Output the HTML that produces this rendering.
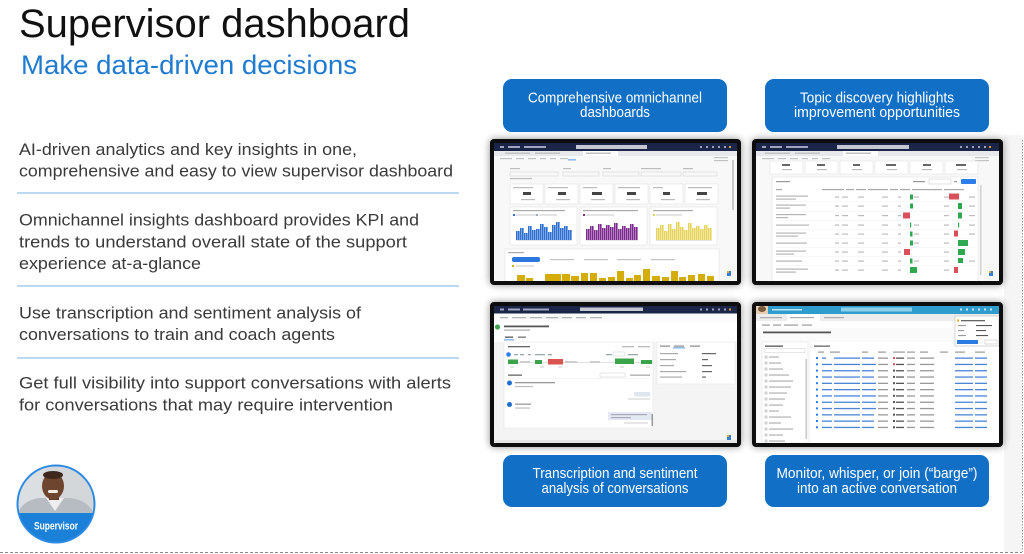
<!DOCTYPE html>
<html><head><meta charset="utf-8">
<style>
html,body{margin:0;padding:0;background:#fff;width:1024px;height:554px;overflow:hidden}
svg{display:block}
text{font-family:"Liberation Sans",Arial,sans-serif}
</style></head><body>
<svg width="1024" height="554" viewBox="0 0 1024 554" xmlns="http://www.w3.org/2000/svg">
<defs>
<filter id="sh" x="-10%" y="-15%" width="120%" height="130%">
<feGaussianBlur in="SourceAlpha" stdDeviation="4"/>
<feComponentTransfer><feFuncA type="linear" slope="0.45"/></feComponentTransfer>
<feMerge><feMergeNode/><feMergeNode in="SourceGraphic"/></feMerge>
</filter>
<pattern id="pb" width="2" height="10" patternUnits="userSpaceOnUse"><rect width="1.4" height="10" fill="#2f6fd0"/><rect x="1.4" width="0.6" height="10" fill="#93b6ec"/></pattern>
<pattern id="pp" width="2" height="10" patternUnits="userSpaceOnUse"><rect width="1.4" height="10" fill="#7d2a8e"/><rect x="1.4" width="0.6" height="10" fill="#c49bd0"/></pattern>
<pattern id="py" width="2" height="10" patternUnits="userSpaceOnUse"><rect width="1.4" height="10" fill="#e6d45a"/><rect x="1.4" width="0.6" height="10" fill="#f5eebb"/></pattern>
<clipPath id="cc"><circle cx="56" cy="504" r="38"/></clipPath>
<clipPath id="sTL"><rect x="494" y="143" width="243" height="138"/></clipPath>
<clipPath id="sTR"><rect x="756" y="143" width="243" height="138"/></clipPath>
<clipPath id="sBL"><rect x="494" y="306" width="243" height="137"/></clipPath>
<clipPath id="sBR"><rect x="756" y="306" width="243" height="137"/></clipPath>
</defs>

<!-- right strip and borders -->
<rect x="1004" y="135" width="18" height="417" fill="#f5f5f5"/>
<line x1="1022.5" y1="140" x2="1022.5" y2="552" stroke="#9a9a9a" stroke-width="1" stroke-dasharray="1.5 1.5"/>
<line x1="0" y1="552.5" x2="1022" y2="552.5" stroke="#8a8a8a" stroke-width="1" stroke-dasharray="3 2"/>

<!-- Title -->
<text x="19" y="37" font-size="39.5" fill="#111" textLength="391" lengthAdjust="spacingAndGlyphs">Supervisor dashboard</text>
<text x="21" y="74" font-size="27" fill="#1e7bd0" textLength="336" lengthAdjust="spacingAndGlyphs">Make data-driven decisions</text>

<!-- Bullets -->
<g font-size="17" fill="#3a3a3a">
<text x="19" y="155" textLength="338" lengthAdjust="spacingAndGlyphs">AI-driven analytics and key insights in one,</text>
<text x="19" y="176.5" textLength="434" lengthAdjust="spacingAndGlyphs">comprehensive and easy to view supervisor dashboard</text>
<text x="19" y="225.5" textLength="400" lengthAdjust="spacingAndGlyphs">Omnichannel insights dashboard provides KPI and</text>
<text x="19" y="247.5" textLength="388" lengthAdjust="spacingAndGlyphs">trends to understand overall state of the support</text>
<text x="19" y="269" textLength="182" lengthAdjust="spacingAndGlyphs">experience at-a-glance</text>
<text x="19" y="318.5" textLength="342" lengthAdjust="spacingAndGlyphs">Use transcription and sentiment analysis of</text>
<text x="19" y="340" textLength="316" lengthAdjust="spacingAndGlyphs">conversations to train and coach agents</text>
<text x="19" y="388.5" textLength="432" lengthAdjust="spacingAndGlyphs">Get full visibility into support conversations with alerts</text>
<text x="19" y="410.5" textLength="374" lengthAdjust="spacingAndGlyphs">for conversations that may require intervention</text>
</g>
<g stroke="#a7cbee" stroke-width="1.5">
<line x1="17" y1="193" x2="459" y2="193"/>
<line x1="17" y1="286" x2="459" y2="286"/>
<line x1="17" y1="358" x2="459" y2="358"/>
</g>

<!-- Avatar -->
<g clip-path="url(#cc)">
<rect x="15" y="463" width="82" height="82" fill="#d4d7da"/>
<rect x="15" y="463" width="30" height="50" fill="#dcdfe2"/>
<path d="M18 514 Q22 500 40 498 L70 498 Q88 500 94 514 Z" fill="#b7bcc2"/>
<path d="M46 498 L55 511 L64 498 Z" fill="#eceeef"/>
<rect x="49" y="494" width="10" height="6" fill="#5c3a28"/>
<ellipse cx="53" cy="486" rx="11" ry="13.5" fill="#6e4630"/>
<ellipse cx="53" cy="475" rx="10" ry="4" fill="#3e281d"/>
<rect x="48" y="490" width="10" height="3" rx="1.5" fill="#f2ece6"/>
<rect x="15" y="513" width="82" height="35" fill="#1a80d8"/>
</g>
<circle cx="56" cy="504" r="38.5" fill="none" stroke="#2d8ae2" stroke-width="2"/>
<text x="56" y="529.5" font-size="11" font-weight="bold" fill="#fff" text-anchor="middle" textLength="44" lengthAdjust="spacingAndGlyphs">Supervisor</text>

<!-- Blue label buttons -->
<g fill="#116fc5">
<rect x="503" y="79" width="224" height="53" rx="9"/>
<rect x="765" y="79" width="224" height="53" rx="9"/>
<rect x="503" y="455" width="224" height="52" rx="9"/>
<rect x="765" y="455" width="224" height="52" rx="9"/>
</g>
<g font-size="14.5" fill="#fff" text-anchor="middle">
<text x="615" y="102.5" textLength="174" lengthAdjust="spacingAndGlyphs">Comprehensive omnichannel</text>
<text x="615" y="117" textLength="70" lengthAdjust="spacingAndGlyphs">dashboards</text>
<text x="877" y="102.5" textLength="154" lengthAdjust="spacingAndGlyphs">Topic discovery highlights</text>
<text x="877" y="117" textLength="166" lengthAdjust="spacingAndGlyphs">improvement opportunities</text>
<text x="615" y="478" textLength="165" lengthAdjust="spacingAndGlyphs">Transcription and sentiment</text>
<text x="615" y="493" textLength="147" lengthAdjust="spacingAndGlyphs">analysis of conversations</text>
<text x="877" y="478" textLength="201" lengthAdjust="spacingAndGlyphs">Monitor, whisper, or join (“barge”)</text>
<text x="877" y="493" textLength="160" lengthAdjust="spacingAndGlyphs">into an active conversation</text>
</g>

<!-- Frames -->
<g filter="url(#sh)" fill="#0d0d0d">
<rect x="490" y="139" width="251" height="146" rx="4"/>
<rect x="752" y="139" width="251" height="146" rx="4"/>
<rect x="490" y="302" width="251" height="145" rx="4"/>
<rect x="752" y="302" width="251" height="145" rx="4"/>
</g>

<!-- ===== TL screen ===== -->
<g clip-path="url(#sTL)">
<rect x="494" y="143" width="243" height="138" fill="#f8f8f8"/>
<rect x="494" y="143" width="243" height="8" fill="#1b2547"/>
<rect x="576" y="145" width="71" height="4" fill="#c5c8d2"/>
<g fill="#9ea5bd"><rect x="500" y="146" width="4" height="2"/><rect x="508" y="146" width="12" height="2"/><rect x="524" y="146" width="22" height="2"/><rect x="700" y="146" width="2" height="2"/><rect x="706" y="146" width="2" height="2"/><rect x="712" y="146" width="2" height="2"/><rect x="718" y="146" width="2" height="2"/><rect x="724" y="146" width="2" height="2"/></g>
<rect x="729" y="146" width="2" height="2" fill="#e5a12a"/>
<rect x="494" y="151" width="243" height="5" fill="#e6e8ec"/>
<rect x="583" y="151" width="35" height="5" fill="#fff"/>
<g fill="#c2c2c2"><rect x="505" y="152.5" width="25" height="1.5"/><rect x="535" y="152.5" width="25" height="1.5"/><rect x="586" y="152.5" width="25" height="1.5"/><rect x="500" y="158" width="12" height="1.2"/><rect x="516" y="158" width="8" height="1.2"/><rect x="528" y="158" width="8" height="1.2"/><rect x="540" y="158" width="6" height="1.2"/><rect x="550" y="158" width="6" height="1.2"/><rect x="560" y="158" width="8" height="1.2"/><rect x="714" y="157" width="14" height="1.2"/><rect x="714" y="160" width="14" height="1.2"/></g>
<rect x="568" y="159.5" width="8" height="0.8" fill="#2b7de9"/>
<!-- filters -->
<g fill="#bdbdbd"><rect x="510" y="168" width="10" height="1.2"/><rect x="563" y="168" width="8" height="1.2"/><rect x="603" y="168" width="8" height="1.2"/><rect x="641" y="168" width="20" height="1.2"/><rect x="683" y="168" width="10" height="1.2"/><rect x="510" y="178" width="22" height="1.2"/></g>
<g fill="none" stroke="#d5d5d5" stroke-width="0.6"><rect x="510" y="172" width="48" height="4"/><rect x="563" y="172" width="36" height="4"/><rect x="603" y="172" width="36" height="4"/><rect x="641" y="172" width="40" height="4"/><rect x="683" y="172" width="34" height="4"/></g>
<!-- KPI cards -->
<g fill="#fff" stroke="#e1e1e1" stroke-width="0.6">
<rect x="510" y="184" width="33" height="20"/><rect x="545" y="184" width="33" height="20"/><rect x="580" y="184" width="33" height="20"/><rect x="615" y="184" width="33" height="20"/><rect x="650" y="184" width="33" height="20"/><rect x="685" y="184" width="33" height="20"/>
</g>
<g fill="#bbb"><rect x="513" y="187" width="20" height="1.2"/><rect x="548" y="187" width="20" height="1.2"/><rect x="583" y="187" width="14" height="1.2"/><rect x="618" y="187" width="22" height="1.2"/><rect x="653" y="187" width="10" height="1.2"/><rect x="688" y="187" width="24" height="1.2"/>
<rect x="521" y="199" width="14" height="1.2"/><rect x="556" y="199" width="14" height="1.2"/><rect x="591" y="199" width="14" height="1.2"/><rect x="626" y="199" width="14" height="1.2"/><rect x="661" y="199" width="14" height="1.2"/><rect x="696" y="199" width="14" height="1.2"/></g>
<g fill="#444"><rect x="523" y="192" width="8" height="3"/><rect x="558" y="192" width="8" height="3"/><rect x="592" y="192" width="10" height="3"/><rect x="627" y="192" width="9" height="3"/><rect x="663" y="192" width="7" height="3"/><rect x="697" y="192" width="10" height="3"/></g>
<!-- chart cards -->
<g fill="#fff" stroke="#e1e1e1" stroke-width="0.6"><rect x="510" y="207" width="67" height="38"/><rect x="580" y="207" width="67" height="38"/><rect x="650" y="207" width="67" height="38"/></g>
<g fill="#aaa"><rect x="513" y="210" width="52" height="1.2"/><rect x="583" y="210" width="55" height="1.2"/><rect x="653" y="210" width="40" height="1.2"/></g>
<g fill="#c8c8c8"><rect x="516" y="214.5" width="20" height="1"/><rect x="539" y="214.5" width="18" height="1"/><rect x="586" y="214.5" width="28" height="1"/><rect x="656" y="214.5" width="26" height="1"/></g>
<rect x="513" y="214" width="2" height="2" fill="#2f6fd0"/><rect x="536" y="214" width="2" height="2" fill="#9ab"/><rect x="583" y="214" width="2" height="2" fill="#7d2a8e"/><rect x="653" y="214" width="2" height="2" fill="#e6d45a"/>
<path d="M516 240 V231 H520 V228 H524 V233 H528 V226 H532 V230 H536 V229 H540 V224 H544 V227 H548 V232 H552 V225 H556 V222 H560 V228 H564 V226 H568 V230 H572 V240 Z" fill="url(#pb)"/>
<path d="M586 240 V229 H590 V226 H594 V230 H598 V224 H602 V228 H606 V225 H610 V227 H614 V223 H618 V229 H622 V226 H626 V228 H630 V224 H634 V227 H638 V240 Z" fill="url(#pp)"/>
<path d="M656 240 V228 H660 V225 H664 V231 H668 V224 H672 V229 H676 V222 H680 V227 H684 V230 H688 V223 H692 V228 H696 V226 H700 V229 H704 V225 H708 V228 H712 V240 Z" fill="url(#py)"/>
<g fill="#d0d0d0"><rect x="516" y="240" width="56" height="0.6"/><rect x="586" y="240" width="52" height="0.6"/><rect x="656" y="240" width="56" height="0.6"/></g>
<!-- bottom card -->
<rect x="505" y="249" width="214" height="34" fill="#fff" stroke="#e1e1e1" stroke-width="0.6"/>
<rect x="508" y="252" width="16" height="1.2" fill="#aaa"/>
<rect x="512" y="257" width="28" height="5" rx="2" fill="#2c76e0"/>
<g fill="#c4c4c4"><rect x="550" y="259" width="24" height="1.2"/><rect x="584" y="259" width="24" height="1.2"/><rect x="617" y="259" width="24" height="1.2"/><rect x="651" y="259" width="24" height="1.2"/></g>
<rect x="512" y="265" width="2" height="2" fill="#d4ad0a"/><rect x="516" y="265.5" width="18" height="1" fill="#c8c8c8"/>
<g fill="#d4ad0a">
<rect x="517" y="275" width="8" height="8"/><rect x="526" y="278" width="7" height="5"/><rect x="545" y="274" width="8" height="9"/><rect x="553" y="274" width="8" height="9"/><rect x="562" y="274" width="8" height="9"/><rect x="571" y="276" width="8" height="7"/><rect x="581" y="273" width="7" height="10"/><rect x="590" y="273" width="7" height="10"/><rect x="599" y="278" width="7" height="5"/><rect x="608" y="277" width="7" height="6"/><rect x="617" y="271" width="7" height="12"/><rect x="626" y="278" width="7" height="5"/><rect x="634" y="275" width="7" height="8"/><rect x="643" y="269" width="7" height="14"/><rect x="652" y="276" width="8" height="7"/><rect x="662" y="277" width="7" height="6"/><rect x="671" y="271" width="7" height="12"/><rect x="679" y="277" width="7" height="6"/><rect x="688" y="275" width="7" height="8"/><rect x="698" y="274" width="7" height="9"/><rect x="707" y="276" width="7" height="7"/>
</g>
<rect x="732" y="160" width="2" height="50" fill="#c8c8c8"/>
<rect x="727" y="271" width="4" height="5" fill="#3a7ed8"/><rect x="727" y="271" width="2" height="2" fill="#e8b02a"/>
</g>

<!-- ===== TR screen ===== -->
<g clip-path="url(#sTR)">
<rect x="756" y="143" width="243" height="138" fill="#f8f8f8"/>
<rect x="756" y="143" width="243" height="8" fill="#1b2547"/>
<rect x="837" y="145" width="72" height="4" fill="#c5c8d2"/>
<g fill="#9ea5bd"><rect x="762" y="146" width="4" height="2"/><rect x="770" y="146" width="12" height="2"/><rect x="786" y="146" width="22" height="2"/><rect x="960" y="146" width="2" height="2"/><rect x="966" y="146" width="2" height="2"/><rect x="972" y="146" width="2" height="2"/><rect x="978" y="146" width="2" height="2"/><rect x="984" y="146" width="2" height="2"/></g>
<rect x="989" y="146" width="2" height="2" fill="#e5a12a"/>
<rect x="756" y="151" width="243" height="5" fill="#e6e8ec"/>
<rect x="843" y="151" width="35" height="5" fill="#fff"/>
<g fill="#c2c2c2"><rect x="765" y="152.5" width="25" height="1.5"/><rect x="795" y="152.5" width="25" height="1.5"/><rect x="846" y="152.5" width="25" height="1.5"/><rect x="762" y="158" width="12" height="1.2"/><rect x="778" y="158" width="8" height="1.2"/><rect x="790" y="158" width="8" height="1.2"/><rect x="802" y="158" width="6" height="1.2"/><rect x="812" y="158" width="6" height="1.2"/><rect x="822" y="158" width="8" height="1.2"/><rect x="975" y="157" width="14" height="1.2"/><rect x="975" y="160" width="14" height="1.2"/></g>
<g fill="#fff" stroke="#e3e3e3" stroke-width="0.6"><rect x="770" y="161" width="33" height="13"/><rect x="805" y="161" width="33" height="13"/><rect x="840" y="161" width="33" height="13"/><rect x="875" y="161" width="33" height="13"/><rect x="910" y="161" width="33" height="13"/><rect x="945" y="161" width="33" height="13"/></g>
<g fill="#666"><rect x="782" y="164" width="8" height="2"/><rect x="817" y="164" width="8" height="2"/><rect x="853" y="164" width="7" height="2"/><rect x="886" y="164" width="10" height="2"/><rect x="923" y="164" width="8" height="2"/><rect x="956" y="164" width="10" height="2"/></g>
<g fill="#bbb"><rect x="782" y="169" width="10" height="1.2"/><rect x="817" y="169" width="10" height="1.2"/><rect x="852" y="169" width="10" height="1.2"/><rect x="887" y="169" width="10" height="1.2"/><rect x="922" y="169" width="10" height="1.2"/><rect x="957" y="169" width="10" height="1.2"/></g>
<rect x="772" y="177" width="206" height="105" fill="#fff" stroke="#e2e2e2" stroke-width="0.6"/>
<rect x="776" y="181" width="14" height="1.2" fill="#999"/>
<rect x="913" y="181" width="12" height="1.2" fill="#999"/>
<rect x="929" y="179" width="22" height="5" fill="#fff" stroke="#ccc" stroke-width="0.6"/>
<rect x="954" y="181" width="3" height="1.2" fill="#999"/>
<rect x="961" y="179" width="15" height="5" rx="1" fill="#2b7de9"/>
<g fill="#aaa"><rect x="776" y="189" width="6" height="1.2"/><rect x="822" y="189" width="22" height="1.2"/><rect x="846" y="189" width="8" height="1.2"/><rect x="856" y="189" width="10" height="1.2"/><rect x="868" y="189" width="20" height="1.2"/><rect x="890" y="189" width="8" height="1.2"/><rect x="900" y="189" width="10" height="1.2"/><rect x="912" y="189" width="30" height="1.2"/><rect x="944" y="189" width="20" height="1.2"/></g>
<g fill="#b5b5b5">
<rect x="776" y="195.5" width="32" height="1.2"/><rect x="776" y="198.5" width="20" height="1.2"/>
<rect x="776" y="204.5" width="30" height="1.2"/><rect x="776" y="207.5" width="14" height="1.2"/>
<rect x="776" y="214" width="30" height="1.2"/><rect x="776" y="217" width="12" height="1.2"/>
<rect x="776" y="224.5" width="33" height="1.2"/>
<rect x="776" y="232.5" width="30" height="1.2"/><rect x="776" y="235.5" width="22" height="1.2"/>
<rect x="776" y="242.5" width="31" height="1.2"/>
<rect x="776" y="250.5" width="30" height="1.2"/><rect x="776" y="253.5" width="18" height="1.2"/>
<rect x="776" y="260.5" width="26" height="1.2"/>
<rect x="776" y="268.5" width="32" height="1.2"/><rect x="776" y="271.5" width="20" height="1.2"/>
</g>
<g fill="#bbb">
<rect x="835" y="196.5" width="4" height="1.2"/><rect x="842" y="196.5" width="6" height="1.2"/><rect x="858" y="196.5" width="6" height="1.2"/><rect x="882" y="196.5" width="6" height="1.2"/><rect x="898" y="196.5" width="3" height="1.2"/><rect x="914" y="196.5" width="5" height="1.2"/><rect x="944" y="196.5" width="5" height="1.2"/><rect x="969" y="196.5" width="6" height="1.2"/>
<rect x="835" y="205.5" width="4" height="1.2"/><rect x="842" y="205.5" width="6" height="1.2"/><rect x="858" y="205.5" width="6" height="1.2"/><rect x="882" y="205.5" width="6" height="1.2"/><rect x="898" y="205.5" width="3" height="1.2"/><rect x="944" y="205.5" width="5" height="1.2"/><rect x="969" y="205.5" width="6" height="1.2"/>
<rect x="835" y="215" width="4" height="1.2"/><rect x="842" y="215" width="6" height="1.2"/><rect x="858" y="215" width="6" height="1.2"/><rect x="882" y="215" width="6" height="1.2"/><rect x="898" y="215" width="3" height="1.2"/><rect x="944" y="215" width="5" height="1.2"/><rect x="969" y="215" width="6" height="1.2"/>
<rect x="835" y="224.5" width="4" height="1.2"/><rect x="842" y="224.5" width="6" height="1.2"/><rect x="858" y="224.5" width="6" height="1.2"/><rect x="882" y="224.5" width="6" height="1.2"/><rect x="898" y="224.5" width="3" height="1.2"/><rect x="914" y="224.5" width="5" height="1.2"/><rect x="944" y="224.5" width="5" height="1.2"/><rect x="969" y="224.5" width="6" height="1.2"/>
<rect x="835" y="233.5" width="4" height="1.2"/><rect x="842" y="233.5" width="6" height="1.2"/><rect x="858" y="233.5" width="6" height="1.2"/><rect x="882" y="233.5" width="6" height="1.2"/><rect x="898" y="233.5" width="3" height="1.2"/><rect x="914" y="233.5" width="5" height="1.2"/><rect x="944" y="233.5" width="5" height="1.2"/><rect x="969" y="233.5" width="6" height="1.2"/>
<rect x="835" y="242.5" width="4" height="1.2"/><rect x="842" y="242.5" width="6" height="1.2"/><rect x="858" y="242.5" width="6" height="1.2"/><rect x="882" y="242.5" width="6" height="1.2"/><rect x="898" y="242.5" width="3" height="1.2"/><rect x="914" y="242.5" width="5" height="1.2"/><rect x="944" y="242.5" width="5" height="1.2"/>
<rect x="835" y="251.5" width="4" height="1.2"/><rect x="842" y="251.5" width="6" height="1.2"/><rect x="858" y="251.5" width="6" height="1.2"/><rect x="882" y="251.5" width="6" height="1.2"/><rect x="898" y="251.5" width="3" height="1.2"/><rect x="944" y="251.5" width="5" height="1.2"/>
<rect x="835" y="260.5" width="4" height="1.2"/><rect x="842" y="260.5" width="6" height="1.2"/><rect x="858" y="260.5" width="6" height="1.2"/><rect x="882" y="260.5" width="6" height="1.2"/><rect x="898" y="260.5" width="3" height="1.2"/><rect x="914" y="260.5" width="5" height="1.2"/><rect x="944" y="260.5" width="5" height="1.2"/><rect x="969" y="260.5" width="6" height="1.2"/>
<rect x="835" y="269.5" width="4" height="1.2"/><rect x="842" y="269.5" width="6" height="1.2"/><rect x="858" y="269.5" width="6" height="1.2"/><rect x="882" y="269.5" width="6" height="1.2"/><rect x="898" y="269.5" width="3" height="1.2"/><rect x="944" y="269.5" width="5" height="1.2"/>
</g>
<g fill="#2fa84f">
<rect x="910" y="194.5" width="3" height="5"/><rect x="910" y="203.5" width="3" height="5"/><rect x="910" y="222.5" width="1.2" height="5"/><rect x="910" y="231.5" width="2.5" height="5"/><rect x="910" y="240.5" width="3" height="5"/><rect x="910" y="258.5" width="2.5" height="5"/><rect x="910" y="267" width="7" height="6"/>
<rect x="958" y="203" width="4" height="6"/><rect x="958" y="212.5" width="4" height="6"/><rect x="958" y="222.5" width="1.2" height="5"/><rect x="958" y="240" width="10" height="6"/><rect x="958" y="249" width="7" height="6"/><rect x="958" y="258" width="5" height="5"/>
</g>
<g fill="#d9505a">
<rect x="903" y="212.5" width="7" height="6"/><rect x="904" y="249" width="6" height="6"/>
<rect x="949" y="193.5" width="10" height="6"/><rect x="954" y="230.5" width="4" height="6"/><rect x="954" y="267" width="4" height="6"/>
</g>
<g fill="#efefef"><rect x="775" y="201.5" width="200" height="0.5"/><rect x="775" y="211" width="200" height="0.5"/><rect x="775" y="220.5" width="200" height="0.5"/><rect x="775" y="229.5" width="200" height="0.5"/><rect x="775" y="238.5" width="200" height="0.5"/><rect x="775" y="247.5" width="200" height="0.5"/><rect x="775" y="256.5" width="200" height="0.5"/><rect x="775" y="265.5" width="200" height="0.5"/></g>
<rect x="980" y="185" width="1.5" height="90" fill="#d0d0d0"/>
<rect x="989" y="271" width="4" height="5" fill="#3a7ed8"/><rect x="989" y="271" width="2" height="2" fill="#e8b02a"/>
</g>

<!-- ===== BL screen ===== -->
<g clip-path="url(#sBL)">
<rect x="494" y="306" width="243" height="137" fill="#f4f4f4"/>
<rect x="494" y="306" width="243" height="7.5" fill="#1b2547"/>
<rect x="580" y="307.5" width="63" height="3.5" fill="#c5c8d2"/>
<g fill="#9ea5bd"><rect x="500" y="308.5" width="4" height="2"/><rect x="508" y="308.5" width="12" height="2"/><rect x="523" y="308.5" width="26" height="2"/><rect x="700" y="308.5" width="2" height="2"/><rect x="706" y="308.5" width="2" height="2"/><rect x="712" y="308.5" width="2" height="2"/><rect x="718" y="308.5" width="2" height="2"/><rect x="724" y="308.5" width="2" height="2"/></g>
<rect x="729" y="308.5" width="2" height="2" fill="#e5a12a"/>
<rect x="494" y="313.5" width="243" height="8.5" fill="#fbfbfb"/>
<g fill="#b5b5b5"><rect x="500" y="317" width="8" height="1.3"/><rect x="512" y="317" width="14" height="1.3"/><rect x="530" y="317" width="12" height="1.3"/><rect x="546" y="317" width="12" height="1.3"/><rect x="562" y="317" width="10" height="1.3"/><rect x="576" y="317" width="10" height="1.3"/><rect x="590" y="317" width="12" height="1.3"/></g>
<rect x="494" y="322" width="243" height="20" fill="#fff"/>
<circle cx="497.5" cy="327" r="2.6" fill="#41a34d"/>
<rect x="504" y="325.5" width="45" height="1.8" fill="#555"/>
<rect x="504" y="329.5" width="26" height="1.2" fill="#aaa"/>
<rect x="505" y="336.5" width="8" height="1.3" fill="#555"/><rect x="518" y="336.5" width="8" height="1.3" fill="#777"/>
<rect x="504" y="339.5" width="10" height="0.8" fill="#2b7de9"/>
<rect x="504" y="342" width="149" height="86" fill="#fff" stroke="#e5e5e5" stroke-width="0.6"/>
<rect x="508" y="346" width="22" height="1.3" fill="#666"/>
<g fill="#bbb"><rect x="622" y="346" width="12" height="1.3"/><rect x="638" y="346" width="12" height="1.3"/></g>
<circle cx="508.5" cy="354.5" r="2.3" fill="#2b7de9"/>
<g fill="#9aa"><rect x="514" y="354" width="4" height="1.3"/><rect x="520" y="354" width="4" height="1.3"/><rect x="528" y="354" width="3" height="1.3"/><rect x="535" y="354" width="10" height="1.3"/><rect x="548" y="354" width="4" height="1.3"/><rect x="606" y="354" width="6" height="1.3"/><rect x="628" y="354" width="10" height="1.3"/></g>
<rect x="613" y="352" width="12" height="4" fill="none" stroke="#ccc" stroke-width="0.5"/>
<rect x="508" y="362" width="145" height="0.8" fill="#d8d8d8"/>
<g fill="#3ba44a"><rect x="508" y="359.5" width="10" height="4.5"/><rect x="535" y="360" width="7" height="4"/><rect x="615" y="358.5" width="19" height="5.5"/><rect x="641" y="360" width="11" height="4"/></g>
<rect x="548" y="359" width="15" height="5.5" fill="#d9534f"/>
<g fill="#ccc"><rect x="520" y="361" width="10" height="2"/><rect x="565" y="361" width="12" height="2"/><rect x="590" y="361" width="10" height="2"/></g>
<g fill="#ccc"><rect x="510" y="366.5" width="4" height="1"/><rect x="540" y="366.5" width="4" height="1"/><rect x="558" y="366.5" width="4" height="1"/><rect x="620" y="366.5" width="4" height="1"/><rect x="646" y="366.5" width="4" height="1"/></g>
<rect x="508" y="374.5" width="14" height="1.3" fill="#666"/>
<rect x="600" y="373" width="25" height="4" fill="#fff" stroke="#ccc" stroke-width="0.5"/>
<rect x="630" y="374.5" width="20" height="1.3" fill="#aaa"/>
<rect x="506" y="378.5" width="145" height="0.5" fill="#eee"/>
<circle cx="509.5" cy="383" r="2.5" fill="#1f6fd0"/>
<rect x="515" y="382" width="40" height="1.3" fill="#999"/><rect x="515" y="386" width="18" height="1.1" fill="#bbb"/>
<rect x="634" y="392" width="16" height="4.5" fill="#dfe6ef"/>
<rect x="628" y="398.5" width="22" height="1" fill="#ccc"/>
<circle cx="509.5" cy="404.5" r="2.5" fill="#1f6fd0"/>
<rect x="515" y="403.5" width="16" height="1.3" fill="#999"/><rect x="515" y="407.5" width="15" height="1.1" fill="#bbb"/>
<rect x="608" y="412" width="44" height="8" fill="#e3e9f2"/>
<rect x="611" y="414" width="36" height="1.2" fill="#aab"/><rect x="611" y="417" width="20" height="1.2" fill="#aab"/>
<rect x="624" y="422.5" width="24" height="1" fill="#ccc"/>
<rect x="651.5" y="414" width="1.5" height="12" fill="#999"/>
<rect x="657" y="342" width="78" height="42" fill="#fff" stroke="#e5e5e5" stroke-width="0.6"/>
<g fill="#888"><rect x="660" y="345.5" width="10" height="1.2"/><rect x="674" y="345.5" width="10" height="1.2"/><rect x="690" y="345.5" width="10" height="1.2"/></g>
<rect x="673" y="347.5" width="12" height="0.8" fill="#2b7de9"/>
<g fill="#aaa"><rect x="660" y="353" width="18" height="1.2"/><rect x="660" y="359" width="16" height="1.2"/><rect x="660" y="365" width="14" height="1.2"/><rect x="660" y="371" width="26" height="1.2"/><rect x="660" y="376.5" width="22" height="1.2"/></g>
<g fill="#666"><rect x="702" y="353" width="14" height="1.2"/><rect x="702" y="359" width="6" height="1.2"/><rect x="702" y="365" width="10" height="1.2"/><rect x="702" y="371" width="10" height="1.2"/><rect x="702" y="376.5" width="4" height="1.2"/></g>
<rect x="727" y="435" width="4" height="5" fill="#3a7ed8"/><rect x="727" y="435" width="2" height="2" fill="#e8b02a"/>
<rect x="494" y="440" width="243" height="3" fill="#e6e6e6"/>
</g>

<!-- ===== BR screen ===== -->
<g clip-path="url(#sBR)">
<rect x="756" y="306" width="243" height="137" fill="#fafafa"/>
<rect x="756" y="306" width="243" height="8" fill="#2f9ccc"/>
<rect x="756" y="305" width="12" height="11" fill="#e4cfb2"/>
<ellipse cx="762" cy="309" rx="4" ry="3" fill="#7a5a3e"/>
<rect x="841" y="307.5" width="71" height="4" fill="#8fd0ea"/>
<g fill="#bfe6f5"><rect x="772" y="309" width="30" height="1.5"/><rect x="960" y="308.5" width="2" height="2"/><rect x="966" y="308.5" width="2" height="2"/><rect x="972" y="308.5" width="2" height="2"/><rect x="978" y="308.5" width="2" height="2"/><rect x="984" y="308.5" width="2" height="2"/><rect x="990" y="308.5" width="2" height="2"/></g>
<rect x="756" y="314" width="243" height="7" fill="#ececec"/>
<rect x="787" y="314" width="33" height="7" fill="#fff"/>
<g fill="#aaa"><rect x="760" y="317" width="22" height="1.2"/><rect x="790" y="317" width="24" height="1.2"/><rect x="824" y="317" width="20" height="1.2"/></g>
<rect x="756" y="321" width="243" height="7" fill="#fff"/>
<g fill="#999"><rect x="762" y="324.5" width="8" height="1.2"/><rect x="773" y="324.5" width="8" height="1.2"/><rect x="784" y="324.5" width="14" height="1.2"/><rect x="802" y="324.5" width="10" height="1.2"/></g>
<rect x="763" y="331.5" width="68" height="1.8" fill="#555"/>
<rect x="762" y="342" width="46" height="101" fill="#fff" stroke="#e5e5e5" stroke-width="0.6"/>
<rect x="765" y="345.5" width="18" height="1.3" fill="#555"/>
<rect x="765" y="348.5" width="40" height="4" fill="#fff" stroke="#ccc" stroke-width="0.5"/>
<g fill="none" stroke="#999" stroke-width="0.5">
<rect x="765" y="356" width="2" height="2"/><rect x="765" y="362" width="2" height="2"/><rect x="765" y="368" width="2" height="2"/><rect x="765" y="374" width="2" height="2"/><rect x="765" y="380" width="2" height="2"/><rect x="765" y="386" width="2" height="2"/><rect x="765" y="392" width="2" height="2"/><rect x="765" y="398" width="2" height="2"/><rect x="765" y="404" width="2" height="2"/><rect x="765" y="410" width="2" height="2"/><rect x="765" y="416" width="2" height="2"/><rect x="765" y="422" width="2" height="2"/><rect x="765" y="428" width="2" height="2"/><rect x="765" y="434" width="2" height="2"/><rect x="765" y="440" width="2" height="2"/>
</g>
<g fill="#aaa">
<rect x="769" y="356.5" width="10" height="1.1"/><rect x="769" y="362.5" width="12" height="1.1"/><rect x="769" y="368.5" width="14" height="1.1"/><rect x="769" y="374.5" width="20" height="1.1"/><rect x="769" y="380.5" width="24" height="1.1"/><rect x="769" y="386.5" width="22" height="1.1"/><rect x="769" y="392.5" width="18" height="1.1"/><rect x="769" y="398.5" width="16" height="1.1"/><rect x="769" y="404.5" width="14" height="1.1"/><rect x="769" y="410.5" width="10" height="1.1"/><rect x="769" y="416.5" width="22" height="1.1"/><rect x="769" y="422.5" width="12" height="1.1"/><rect x="769" y="428.5" width="24" height="1.1"/><rect x="769" y="434.5" width="14" height="1.1"/><rect x="769" y="440.5" width="16" height="1.1"/>
</g>
<rect x="805.5" y="359" width="1.5" height="80" fill="#c8c8c8"/>
<rect x="811" y="342" width="188" height="101" fill="#fff"/>
<rect x="814" y="345.5" width="16" height="1.3" fill="#666"/>
<g fill="#999"><rect x="818" y="351.5" width="6" height="1.2"/><rect x="830" y="351.5" width="10" height="1.2"/><rect x="862" y="351.5" width="6" height="1.2"/><rect x="878" y="351.5" width="8" height="1.2"/><rect x="893" y="351.5" width="12" height="1.2"/><rect x="907" y="351.5" width="8" height="1.2"/><rect x="920" y="351.5" width="8" height="1.2"/><rect x="940" y="351.5" width="8" height="1.2"/><rect x="955" y="351.5" width="10" height="1.2"/><rect x="975" y="351.5" width="10" height="1.2"/></g>
<g fill="#4a86d8">
<rect x="822" y="357.5" width="4" height="1.3"/><rect x="834" y="357.5" width="26" height="1.3"/><rect x="862" y="357.5" width="12" height="1.3"/><rect x="955" y="357.5" width="18" height="1.3"/><rect x="975" y="357.5" width="12" height="1.3"/>
<rect x="822" y="363.8" width="10" height="1.3"/><rect x="834" y="363.8" width="26" height="1.3"/><rect x="862" y="363.8" width="14" height="1.3"/><rect x="955" y="363.8" width="18" height="1.3"/><rect x="975" y="363.8" width="12" height="1.3"/>
<rect x="822" y="370.1" width="10" height="1.3"/><rect x="834" y="370.1" width="26" height="1.3"/><rect x="862" y="370.1" width="12" height="1.3"/><rect x="955" y="370.1" width="18" height="1.3"/><rect x="975" y="370.1" width="12" height="1.3"/>
<rect x="822" y="376.4" width="10" height="1.3"/><rect x="834" y="376.4" width="26" height="1.3"/><rect x="862" y="376.4" width="12" height="1.3"/><rect x="955" y="376.4" width="18" height="1.3"/><rect x="975" y="376.4" width="12" height="1.3"/>
<rect x="822" y="382.7" width="10" height="1.3"/><rect x="834" y="382.7" width="26" height="1.3"/><rect x="862" y="382.7" width="14" height="1.3"/><rect x="955" y="382.7" width="18" height="1.3"/><rect x="975" y="382.7" width="12" height="1.3"/>
<rect x="822" y="389" width="10" height="1.3"/><rect x="834" y="389" width="26" height="1.3"/><rect x="862" y="389" width="14" height="1.3"/><rect x="955" y="389" width="18" height="1.3"/><rect x="975" y="389" width="12" height="1.3"/>
<rect x="822" y="395.3" width="10" height="1.3"/><rect x="834" y="395.3" width="26" height="1.3"/><rect x="862" y="395.3" width="14" height="1.3"/><rect x="955" y="395.3" width="18" height="1.3"/><rect x="975" y="395.3" width="12" height="1.3"/>
<rect x="822" y="401.6" width="10" height="1.3"/><rect x="834" y="401.6" width="26" height="1.3"/><rect x="862" y="401.6" width="14" height="1.3"/><rect x="955" y="401.6" width="18" height="1.3"/><rect x="975" y="401.6" width="12" height="1.3"/>
<rect x="822" y="407.9" width="10" height="1.3"/><rect x="834" y="407.9" width="26" height="1.3"/><rect x="862" y="407.9" width="14" height="1.3"/><rect x="955" y="407.9" width="18" height="1.3"/><rect x="975" y="407.9" width="12" height="1.3"/>
<rect x="822" y="414.2" width="10" height="1.3"/><rect x="834" y="414.2" width="26" height="1.3"/><rect x="862" y="414.2" width="12" height="1.3"/><rect x="955" y="414.2" width="18" height="1.3"/><rect x="975" y="414.2" width="12" height="1.3"/>
<rect x="822" y="420.5" width="10" height="1.3"/><rect x="834" y="420.5" width="26" height="1.3"/><rect x="862" y="420.5" width="12" height="1.3"/><rect x="955" y="420.5" width="18" height="1.3"/><rect x="975" y="420.5" width="12" height="1.3"/>
<rect x="822" y="426.8" width="10" height="1.3"/><rect x="834" y="426.8" width="26" height="1.3"/><rect x="862" y="426.8" width="12" height="1.3"/><rect x="955" y="426.8" width="18" height="1.3"/><rect x="975" y="426.8" width="12" height="1.3"/>
</g>
<g fill="#2b7de9"><rect x="816" y="357" width="2" height="2"/><rect x="816" y="363.3" width="2" height="2"/><rect x="816" y="369.6" width="2" height="2"/><rect x="816" y="375.9" width="2" height="2"/><rect x="816" y="382.2" width="2" height="2"/><rect x="816" y="388.5" width="2" height="2"/><rect x="816" y="394.8" width="2" height="2"/><rect x="816" y="401.1" width="2" height="2"/><rect x="816" y="407.4" width="2" height="2"/><rect x="816" y="413.7" width="2" height="2"/><rect x="816" y="420" width="2" height="2"/><rect x="816" y="426.3" width="2" height="2"/></g>
<g fill="#999">
<rect x="878" y="357.5" width="10" height="1.3"/><rect x="878" y="363.8" width="10" height="1.3"/><rect x="878" y="370.1" width="10" height="1.3"/><rect x="878" y="376.4" width="10" height="1.3"/><rect x="878" y="382.7" width="10" height="1.3"/><rect x="878" y="389" width="10" height="1.3"/><rect x="878" y="395.3" width="10" height="1.3"/><rect x="878" y="401.6" width="10" height="1.3"/><rect x="878" y="407.9" width="10" height="1.3"/><rect x="878" y="414.2" width="10" height="1.3"/><rect x="878" y="420.5" width="10" height="1.3"/><rect x="878" y="426.8" width="10" height="1.3"/>
<rect x="920" y="357.5" width="14" height="1.3"/><rect x="920" y="363.8" width="14" height="1.3"/><rect x="920" y="370.1" width="14" height="1.3"/><rect x="920" y="376.4" width="14" height="1.3"/><rect x="920" y="382.7" width="14" height="1.3"/><rect x="920" y="389" width="14" height="1.3"/><rect x="920" y="395.3" width="14" height="1.3"/><rect x="920" y="401.6" width="14" height="1.3"/><rect x="920" y="407.9" width="14" height="1.3"/><rect x="920" y="414.2" width="14" height="1.3"/><rect x="920" y="420.5" width="14" height="1.3"/><rect x="920" y="426.8" width="14" height="1.3"/>
<rect x="907" y="357.5" width="8" height="1.3"/><rect x="907" y="363.8" width="8" height="1.3"/><rect x="907" y="370.1" width="8" height="1.3"/><rect x="907" y="376.4" width="8" height="1.3"/><rect x="907" y="382.7" width="8" height="1.3"/><rect x="907" y="389" width="8" height="1.3"/><rect x="907" y="395.3" width="8" height="1.3"/><rect x="907" y="401.6" width="8" height="1.3"/><rect x="907" y="407.9" width="8" height="1.3"/><rect x="907" y="414.2" width="8" height="1.3"/><rect x="907" y="420.5" width="8" height="1.3"/><rect x="907" y="426.8" width="8" height="1.3"/>
</g>
<g fill="#d9534f"><rect x="893" y="357" width="2" height="2"/><rect x="893" y="363.3" width="2" height="2"/></g>
<g fill="#555"><rect x="893" y="369.6" width="2" height="2"/><rect x="893" y="375.9" width="2" height="2"/><rect x="893" y="382.2" width="2" height="2"/><rect x="893" y="388.5" width="2" height="2"/><rect x="893" y="394.8" width="2" height="2"/><rect x="893" y="401.1" width="2" height="2"/><rect x="893" y="407.4" width="2" height="2"/><rect x="893" y="413.7" width="2" height="2"/><rect x="893" y="420" width="2" height="2"/><rect x="893" y="426.3" width="2" height="2"/>
<rect x="896" y="357.5" width="8" height="1.3"/><rect x="896" y="363.8" width="8" height="1.3"/><rect x="896" y="370.1" width="8" height="1.3"/><rect x="896" y="376.4" width="8" height="1.3"/><rect x="896" y="382.7" width="8" height="1.3"/><rect x="896" y="389" width="8" height="1.3"/><rect x="896" y="395.3" width="8" height="1.3"/><rect x="896" y="401.6" width="8" height="1.3"/><rect x="896" y="407.9" width="8" height="1.3"/><rect x="896" y="414.2" width="8" height="1.3"/><rect x="896" y="420.5" width="8" height="1.3"/><rect x="896" y="426.8" width="8" height="1.3"/></g>
<!-- popup -->
<rect x="955" y="316" width="44" height="30" fill="#fff" stroke="#bbb" stroke-width="0.6"/>
<circle cx="958" cy="320.5" r="1.2" fill="#e8b02a"/>
<rect x="961" y="320" width="24" height="1.3" fill="#666"/>
<g fill="#999"><rect x="958" y="325" width="8" height="1.1"/><rect x="958" y="330" width="6" height="1.1"/><rect x="958" y="335" width="8" height="1.1"/></g>
<g fill="#555"><rect x="976" y="325" width="16" height="1.1"/><rect x="976" y="330" width="10" height="1.1"/><rect x="976" y="335" width="12" height="1.1"/></g>
<rect x="957" y="340" width="21" height="4" fill="#2d7be0"/>
<rect x="985" y="340" width="12" height="4" fill="#fff" stroke="#bbb" stroke-width="0.5"/>
</g>
</svg>
</body></html>
